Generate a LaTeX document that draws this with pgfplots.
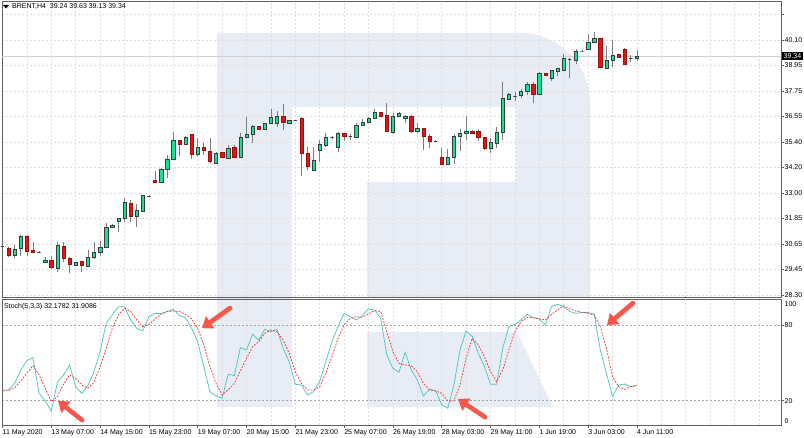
\documentclass[border=0pt]{standalone}
\usepackage{pgfplots}
\pgfplotsset{compat=1.18}
\usepackage{pgfplotstable}
\usepackage{fontspec}
\setmainfont{Liberation Sans}
\usetikzlibrary{arrows.meta}

\definecolor{wm}{RGB}{232,237,245}
\definecolor{bull}{RGB}{20,226,140}
\definecolor{bear}{RGB}{228,20,20}
\definecolor{wick}{RGB}{125,125,125}
\definecolor{outl}{RGB}{60,60,60}
\definecolor{gridc}{RGB}{222,222,222}
\definecolor{framec}{RGB}{95,95,95}
\definecolor{kline}{RGB}{80,200,190}
\definecolor{dline}{RGB}{250,50,50}
\definecolor{arrowc}{RGB}{245,88,72}

\pgfdeclareplotmark{nothing}{}

\pgfplotstableread{
k O H L C
0 30.57 30.60 30.54 30.57
1 30.46 30.54 30.04 30.12
2 30.12 30.61 30.03 30.41
3 30.46 31.08 30.12 31.03
4 31.03 31.08 30.12 30.34
5 30.38 30.74 30.24 30.29
6 30.30 30.34 30.26 30.30
7 29.84 30.07 29.77 29.93
8 29.92 30.12 29.50 29.57
9 29.53 30.74 29.38 30.61
10 30.58 30.74 29.81 30.00
11 30.00 30.07 29.30 29.72
12 29.69 29.84 29.66 29.80
13 29.87 29.87 29.38 29.67
14 29.63 30.38 29.63 30.04
15 30.04 30.74 29.95 30.29
16 30.27 30.80 30.12 30.52
17 30.52 31.62 30.49 31.43
18 31.45 31.57 31.45 31.54
19 31.71 31.86 31.23 31.86
20 31.86 32.77 31.69 32.59
21 32.56 32.70 31.69 31.97
22 31.97 32.51 31.43 32.23
23 32.20 32.93 32.13 32.90
24 32.88 32.93 32.85 32.88
25 33.62 34.04 33.50 33.50
26 33.51 34.19 33.51 34.13
27 34.12 34.78 33.71 34.58
28 34.58 35.83 34.55 35.47
29 35.47 35.47 34.73 35.27
30 35.30 35.67 35.27 35.61
31 35.75 35.75 34.58 34.82
32 34.82 35.55 34.73 35.16
33 35.16 35.32 34.78 35.01
34 34.96 35.55 34.39 34.47
35 34.42 34.93 34.39 34.86
36 34.90 34.93 34.65 34.70
37 34.62 35.24 34.59 35.09
38 35.13 35.24 34.67 34.70
39 34.69 35.78 34.65 35.61
40 35.59 36.55 35.55 35.73
41 35.73 36.17 35.32 36.12
42 36.12 36.12 35.93 35.96
43 35.99 36.26 35.96 36.26
44 36.24 36.91 36.21 36.52
45 36.24 36.81 36.06 36.57
46 36.57 37.12 35.93 36.29
47 36.24 36.40 36.21 36.37
48 36.38 36.40 36.36 36.38
49 36.47 36.55 33.81 34.85
50 34.86 35.16 34.08 34.27
51 34.08 35.16 34.04 34.55
52 35.01 35.47 34.47 35.27
53 35.24 35.81 35.16 35.62
54 35.59 35.66 35.50 35.59
55 35.16 35.86 34.93 35.78
56 35.78 35.78 35.44 35.63
57 35.63 35.76 35.49 35.63
58 35.60 36.24 35.60 36.17
59 36.17 36.43 36.12 36.29
60 36.29 36.55 36.25 36.48
61 36.48 36.89 36.48 36.75
62 36.75 36.75 36.55 36.58
63 36.63 37.17 35.86 35.86
64 35.83 36.73 35.77 36.58
65 36.58 36.75 36.55 36.71
66 36.48 36.63 36.27 36.58
67 36.58 36.63 35.78 35.86
68 35.86 36.24 35.78 36.01
69 36.01 36.01 35.01 35.66
70 35.66 35.75 35.09 35.44
71 35.44 35.46 35.42 35.44
72 34.66 35.12 34.37 34.37
73 34.36 35.06 34.36 34.70
74 34.68 35.74 34.36 35.67
75 35.63 35.97 34.98 35.77
76 35.77 36.60 35.46 35.89
77 35.86 35.94 35.74 35.77
78 35.86 35.97 35.43 35.60
79 35.60 35.63 35.00 35.10
80 35.09 35.55 34.88 35.35
81 35.32 36.09 35.09 35.85
82 35.83 38.15 35.45 37.40
83 37.37 37.63 37.30 37.58
84 37.51 37.71 37.28 37.51
85 37.55 37.83 37.40 37.75
86 37.75 38.17 37.55 38.05
87 38.05 38.17 37.17 37.58
88 37.58 38.63 37.55 38.56
89 38.56 38.58 38.46 38.48
90 38.33 38.71 38.20 38.68
91 38.66 38.79 38.45 38.79
92 38.71 39.44 38.66 39.25
93 39.20 39.25 38.33 39.20
94 39.17 39.68 38.97 39.56
95 39.59 39.62 39.56 39.59
96 39.68 40.36 39.64 39.99
97 39.98 40.48 39.94 40.18
98 40.18 40.18 38.79 38.83
99 38.79 39.84 38.76 39.17
100 39.16 40.10 38.87 39.41
101 39.44 39.46 39.27 39.30
102 39.68 39.71 38.97 38.97
103 39.25 39.40 39.07 39.25
104 39.24 39.63 39.13 39.34
}\candles

\pgfplotstableread{
k K D
0 28.5 27.7
1 28.5 28.0
2 33.8 30.3
3 44.3 35.6
4 51.7 41.7
5 54.1 47.8
6 25.8 40.4
7 19.8 29.8
8 11.8 19.2
9 34.5 23.2
10 40.4 33.0
11 48.3 40.4
12 31.1 37.7
13 25.8 32.4
14 31.9 29.8
15 43.0 34.5
16 58.9 47.0
17 81.3 61.5
18 87.9 77.4
19 94.5 87.9
20 94.5 93.2
21 84.0 90.6
22 77.4 84.0
23 75.3 78.7
24 86.6 80.5
25 89.2 84.8
26 89.2 88.5
27 90.6 90.6
28 92.4 91.1
29 87.4 90.6
30 85.8 88.5
31 77.4 84.8
32 66.8 77.4
33 47.0 64.1
34 27.2 47.0
35 23.7 33.8
36 21.9 24.5
37 40.9 28.5
38 39.8 33.8
39 62.0 43.5
40 60.2 53.6
41 72.6 62.8
42 68.1 66.8
43 76.6 73.5
44 74.7 76.0
45 76.6 74.7
46 61.5 68.1
47 50.9 57.5
48 33.0 43.0
49 32.4 33.8
50 24.5 28.5
51 27.2 28.5
52 35.1 31.1
53 50.9 41.7
54 66.8 54.9
55 78.7 69.4
56 89.2 80.0
57 86.6 85.3
58 84.0 86.6
59 87.4 86.1
60 92.7 88.7
61 91.9 91.4
62 85.3 90.6
63 56.2 74.7
64 45.7 58.9
65 42.5 49.6
66 58.3 48.3
67 44.4 47.8
68 36.4 43.0
69 23.7 33.8
70 29.0 28.5
71 28.0 27.7
72 16.6 25.8
73 14.0 19.8
74 32.4 19.8
75 60.2 32.4
76 75.3 53.6
77 70.8 69.4
78 57.5 64.1
79 47.0 54.9
80 33.0 43.0
81 33.0 35.1
82 61.5 44.4
83 78.7 60.2
84 80.5 74.7
85 84.0 82.6
86 88.5 86.0
87 85.8 85.8
88 84.8 84.8
89 80.0 84.0
90 94.5 88.5
91 96.4 91.9
92 94.5 95.3
93 90.6 92.7
94 89.2 91.1
95 90.0 90.0
96 89.8 89.2
97 88.7 87.9
98 60.2 78.7
99 41.7 61.5
100 23.2 39.1
101 32.4 31.1
102 33.2 29.0
103 31.1 31.1
104 32.18 31.91
}\stoch

\begin{document}
\begin{tikzpicture}[font=\fontsize{7}{8}\selectfont]
\path[use as bounding box] (0,0) rectangle (804pt,437pt);
\fill[white] (0,0) rectangle (804pt,437pt);
% watermark logo
\fill[wm] (217pt,140pt) rectangle (292pt,404pt);
\fill[wm] (292pt,330pt) rectangle (520pt,404pt);
\fill[wm] (516pt,140pt) -- (516pt,404pt) -- (520pt,404pt) arc[start angle=90,end angle=0,radius=70pt] -- (590pt,140pt) -- cycle;
\fill[wm] (367pt,140pt) rectangle (590pt,255pt);
\fill[wm] (217pt,30pt) rectangle (292pt,139pt);
\fill[wm] (367pt,105pt) -- (517pt,105pt) -- (553pt,30pt) -- (367pt,30pt) -- cycle;

\pgfplotsset{
  chartbase/.style={
    scale only axis, anchor=south west, width=779pt,
    xmin=-0.08, xmax=127.62,
    axis line style={draw=framec, line width=0.8pt},
    grid style={gridc, dash pattern=on 2pt off 2pt, line width=0.5pt},
    tick align=outside, major tick length=2.5pt, minor tick length=0pt,
    tick style={framec, line width=0.5pt},
    ticklabel style={font=\fontsize{7}{8}\selectfont},
    ytick pos=right, yticklabel pos=right,
    yticklabel style={anchor=west, inner sep=1pt},
  },
}

\begin{axis}[chartbase, at={(2pt,140pt)}, height=296pt,
  ymin=28.2075, ymax=41.9034,
  xtick={4,8,...,124}, xticklabels={}, xtick pos=bottom, xmajorgrids,
  x tick style={draw=none},
  ytick={28.30,29.48,30.66,31.84,33.02,34.20,35.38,36.56,37.74,38.92,40.10,41.28},
  yticklabels={28.30,29.45,30.65,31.85,33.00,34.20,35.40,36.55,37.75,38.95,40.10,},
  ymajorgrids,
]
\addplot[gridc!85!gray, line width=0.6pt] coordinates {(-0.08,39.34) (127.62,39.34)};
\addplot[scatter, only marks, mark=nothing,
  restrict expr to domain={\thisrow{C}-\thisrow{O}}{0:1000},
  visualization depends on={21.6122*(\thisrow{C}-\thisrow{O}) \as \cB},
  visualization depends on={21.6122*(\thisrow{H}-\thisrow{O}) \as \cH},
  visualization depends on={21.6122*(\thisrow{L}-\thisrow{O}) \as \cL},
  scatter/@pre marker code/.code={%
    \draw[wick, line width=0.7pt] (0pt,\cL pt) -- (0pt,\cH pt);
    \filldraw[fill=bull, draw=outl, line width=0.35pt] (-1.65pt,0pt) rectangle (1.65pt,\cB pt);
  },
  scatter/@post marker code/.code={},
] table[x=k, y=O] {\candles};
\addplot[scatter, only marks, mark=nothing,
  restrict expr to domain={\thisrow{C}-\thisrow{O}}{-1000:-0.0001},
  visualization depends on={21.6122*(\thisrow{C}-\thisrow{O}) \as \cB},
  visualization depends on={21.6122*(\thisrow{H}-\thisrow{O}) \as \cH},
  visualization depends on={21.6122*(\thisrow{L}-\thisrow{O}) \as \cL},
  scatter/@pre marker code/.code={%
    \draw[wick, line width=0.7pt] (0pt,\cL pt) -- (0pt,\cH pt);
    \filldraw[fill=bear, draw=bear!70!black, line width=0.35pt] (-1.65pt,0pt) rectangle (1.65pt,\cB pt);
  },
  scatter/@post marker code/.code={},
] table[x=k, y=O] {\candles};
\end{axis}

\begin{axis}[chartbase, at={(2pt,12pt)}, height=126pt,
  ymin=0.7, ymax=100.6,
  xtick={0,8,...,104},
  xticklabels={11 May 2020,13 May 07:00,14 May 15:00,15 May 23:00,19 May 07:00,20 May 15:00,21 May 23:00,25 May 07:00,26 May 19:00,28 May 03:00,29 May 11:00,1 Jun 19:00,3 Jun 03:00,4 Jun 11:00},
  xtick pos=bottom, xmajorgrids,
  minor xtick={4,12,...,124}, xminorgrids,
  minor grid style={gridc, dash pattern=on 2pt off 2pt, line width=0.5pt},
  extra x ticks={112,120}, extra x tick labels={},
  extra x tick style={grid=major, major tick length=0pt},
  xticklabel style={anchor=north west, inner sep=0pt, yshift=-1.5pt},
  ytick={20,80}, yticklabels={20,80}, ymajorgrids,
  y grid style={gray!70, dash pattern=on 2pt off 2pt, line width=0.5pt},
  extra y ticks={3.9,96.6}, extra y tick labels={0,100},
  extra y tick style={grid=none, major tick length=0pt, yticklabel style={anchor=west, inner sep=1pt, xshift=2.5pt}},
]
\addplot[kline, line width=0.75pt] table[x=k, y=K] {\stoch};
\addplot[dline, line width=0.75pt, dash pattern=on 1.8pt off 1.4pt] table[x=k, y=D] {\stoch};
\end{axis}

% header texts
\fill[black] (3pt,432pt) -- (9pt,432pt) -- (6pt,428.5pt) -- cycle;
\node[anchor=west, inner sep=0pt] at (12pt,430pt) {BRENT,H4\ \ 39.24 39.63 39.13 39.34};
\node[anchor=west, inner sep=0pt] at (4pt,130pt) {Stoch(5,3,3) 32.1782 31.9086};
\node[anchor=west, fill=black, text=white, inner xsep=1.5pt, inner ysep=1.5pt] at (782pt,380.6pt) {39.34};

% arrows
\foreach \xa/\ya/\xb/\yb in {82/17/58/36, 230/129/202/109, 485/20/458/38, 633/134/607/112}{
  \draw[black, opacity=0.12, line width=4.5pt, line cap=round, -{Triangle[width=14pt,length=10pt]}] (\xa pt+0.8pt,\ya pt-1pt) -- (\xb pt+0.8pt,\yb pt-1pt);
  \draw[arrowc, line width=4.5pt, line cap=round, -{Triangle[width=14pt,length=10pt]}] (\xa pt,\ya pt) -- (\xb pt,\yb pt);
}
\end{tikzpicture}
\end{document}
